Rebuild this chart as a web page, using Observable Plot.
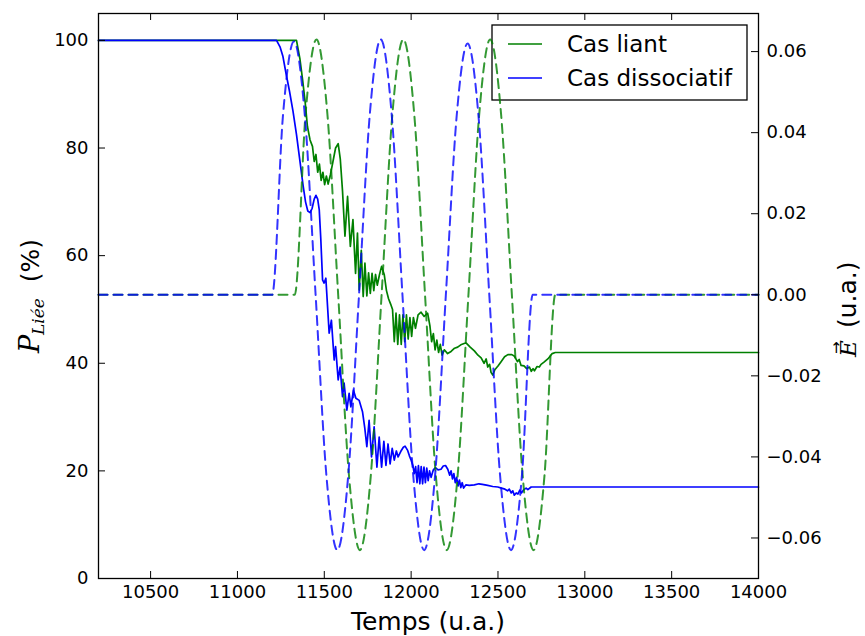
<!DOCTYPE html>
<html><head><meta charset="utf-8">
<script src="https://cdn.jsdelivr.net/npm/d3@7"></script>
<script src="https://cdn.jsdelivr.net/npm/@observablehq/plot@0.6"></script>
<style>html,body{margin:0;padding:0;background:#fff}svg{display:block}</style>
</head><body><div id="chart"></div>
<script>
// ---- data ----
const seriesNames = ["Cas liant", "Cas dissociatif"];
const seriesColors = ["#008000", "#0000ff"];

const timeLiant = [10200,11340,11360,11375,11390,11403,11418,11432,11442,11452,11462,11472,11482,11492,11502,11512,11522,11535,11550,11565,11580,11592,11605,11619,11634,11650,11665,11680,11691,11701,11713,11724,11734,11745,11755,11765,11775,11785,11795,11805,11818,11830,11845,11858,11870,11882,11893,11903,11913,11923,11933,11943,11953,11963,11973,11983,11993,12003,12013,12025,12040,12057,12075,12095,12108,12118,12128,12138,12148,12158,12168,12178,12191,12210,12230,12250,12268,12290,12316,12340,12364,12385,12403,12420,12432,12441,12452,12460,12470,12482,12500,12518,12538,12557,12580,12595,12612,12622,12633,12650,12665,12681,12692,12702,12710,12725,12738,12748,12765,12787,12800,12812,12830,14000];
const pLiant = [100,100,96.5,92.7,88.5,84,81.5,80.3,77.5,78.8,75.5,77,74,75.5,73.2,74.8,73.3,75,77.5,80,80.8,78,72,63.6,71,61.7,66.7,56.7,64.2,53.6,61,52.4,58.6,52.5,56.8,53,56.7,53.5,56.5,54.5,56.5,58,56.5,53.5,52,51,50,44,49.3,43.5,49,43.5,49,44,49,44.5,48.5,45,48.5,46.5,49,49.5,48.7,49.3,47,44,45.5,42.5,44.3,42,43.5,41.5,42.5,41.8,42.2,42.8,43,43.5,43.8,43,42.3,41.5,41,40,40.8,39.3,39.8,38.3,37.8,38.8,39.5,40.3,41.2,41.6,41.6,41.3,40.3,40.7,39.6,39.5,39,39.3,38.5,39,38.6,39.4,39.3,39.8,40.2,40.8,41.3,41.8,42,42];

const timeDiss = [10200,11225,11245,11262,11280,11300,11320,11340,11360,11378,11392,11405,11418,11430,11442,11452,11462,11471,11480,11490,11499,11509,11528,11541,11557,11565,11580,11591,11605,11614,11630,11643,11653,11668,11682,11701,11720,11733,11745,11758,11772,11787,11803,11816,11830,11843,11855,11867,11879,11891,11903,11915,11925,11940,11955,11965,11980,11990,12000,12010,12018,12026,12034,12042,12050,12058,12066,12074,12082,12090,12098,12106,12115,12128,12140,12155,12172,12185,12198,12211,12222,12230,12238,12246,12254,12262,12270,12278,12286,12294,12302,12315,12335,12364,12390,12410,12441,12470,12499,12520,12540,12555,12565,12576,12585,12594,12605,12615,12625,12635,12648,12662,12672,12691,12705,14000];
const pDiss = [100,100,98.8,97,93.8,90.5,86.8,82.5,77.5,73,70,68.3,68,68.8,70.5,71.2,70.5,68.5,63,55.5,54.9,55.8,45.6,48,40.6,43.1,36.9,39.3,33.8,36.3,31.3,34.4,31.9,35,33.5,33.1,31,28,24.5,29.4,22.6,28.2,20.7,26.3,20.7,25.5,21,25,21.3,24.2,22,23.7,22.6,23.6,24.4,24.6,23.8,22.8,22,21,19.5,20.8,17.8,21,17.6,20.8,17.6,20.7,17.8,20.5,18.2,20,18.8,20.2,20.6,20.2,20.3,20.9,21,20.3,19.2,20,18.5,19.5,17.8,18.8,17.2,18.3,16.9,17.8,16.8,17.4,17.3,17.4,17.6,17.5,17.3,17.1,17,16.8,16.6,16.3,16.6,15.9,16.3,15.5,15.9,15.7,16.4,15.9,16.5,16.8,16.5,17,17,17];

// electric field (right axis), dashed
const timeFieldLiant = [10200,11330,11392,11455,11518,11580,11642,11705,11768,11830,11892,11955,12018,12080,12142,12205,12268,12330,12392,12455,12518,12580,12642,12705,12768,12830,14000];
const fieldLiant = [0,0,0.0445,0.063,0.0445,0,-0.0445,-0.063,-0.0445,0,0.0445,0.063,0.0445,0,-0.0445,-0.063,-0.0445,0,0.0445,0.063,0.0445,0,-0.0445,-0.063,-0.0445,0,0];
const timeFieldDiss = [10200,11200,11262,11325,11388,11450,11512,11575,11638,11700,11762,11825,11888,11950,12012,12075,12138,12200,12262,12325,12388,12450,12512,12575,12638,12700,14000];
const fieldDiss = [0,0,0.0442,0.0625,0.0442,0,-0.0445,-0.063,-0.0445,0,0.0445,0.063,0.0445,0,-0.0445,-0.063,-0.0445,0,0.044,0.062,0.044,0,-0.0445,-0.063,-0.0445,0,0];

const xTicks = [10500,11000,11500,12000,12500,13000,13500,14000];
const pTicks = [0,20,40,60,80,100];
const eTicks = [-0.06,-0.04,-0.02,0.00,0.02,0.04,0.06];

// ---- layout ----
const W = 865, H = 636, mL = 98, mR = 107, mT = 13, mB = 58;
const plotW = W - mL - mR, plotH = H - mT - mB;
const xDomain = [10200, 14000];
const pDomain = [0, 105];
const eDomain = [-0.0700, 0.0694];
const eToP = d3.scaleLinear().domain(eDomain).range(pDomain);

const liant = timeLiant.map((t, i) => ({t, v: pLiant[i]}));
const diss = timeDiss.map((t, i) => ({t, v: pDiss[i]}));
const fLiant = timeFieldLiant.map((t, i) => ({t, v: eToP(fieldLiant[i])}));
const fDiss = timeFieldDiss.map((t, i) => ({t, v: eToP(fieldDiss[i])}));

const tickLen = 7;
const fmtE = d => d3.format(".2f")(Math.round(eToP.invert(d) * 100) / 100);

const chart = Plot.plot({
  width: W, height: H,
  marginLeft: mL, marginRight: mR, marginTop: mT, marginBottom: mB,
  style: {fontFamily: "DejaVu Sans", color: "black", background: "white", overflow: "visible"},
  x: {domain: xDomain},
  y: {domain: pDomain},
  marks: [
    Plot.line(liant, {x: "t", y: "v", stroke: seriesColors[0], strokeWidth: 1.7}),
    Plot.line(diss, {x: "t", y: "v", stroke: seriesColors[1], strokeWidth: 1.7}),
    Plot.line(fLiant, {x: "t", y: "v", stroke: seriesColors[0], strokeWidth: 2, strokeOpacity: 0.8, strokeDasharray: "9,6", curve: "monotone-x"}),
    Plot.line(fDiss, {x: "t", y: "v", stroke: seriesColors[1], strokeWidth: 2, strokeOpacity: 0.8, strokeDasharray: "9,6", curve: "monotone-x"}),
    Plot.frame({stroke: "black", strokeWidth: 1.3}),
    // inward ticks
    Plot.tickX(xTicks, {x: d => d, stroke: "black", insetTop: plotH - tickLen}),
    Plot.tickX(xTicks, {x: d => d, stroke: "black", insetBottom: plotH - tickLen}),
    Plot.tickY(pTicks, {y: d => d, stroke: "black", insetRight: plotW - tickLen}),
    Plot.tickY(eTicks, {y: d => eToP(d), stroke: "black", insetLeft: plotW - tickLen}),
    // tick labels
    Plot.axisX({ticks: xTicks, tickSize: 0, tickPadding: 7, tickFormat: d => String(d), label: null, fontSize: 18}),
    Plot.axisY({ticks: pTicks, anchor: "left", tickSize: 0, tickPadding: 10, tickFormat: d => String(d), label: null, fontSize: 18}),
    Plot.axisY({ticks: eTicks.map(e => eToP(e)), anchor: "right", tickSize: 0, tickPadding: 8, tickFormat: fmtE, label: null, fontSize: 18})
  ]
});
document.getElementById("chart").appendChild(chart);

const svg = d3.select(chart);
// legend (drawn below the dashed field lines, like the reference)
const lineGroups = svg.selectAll('g[aria-label="line"]').nodes();
const leg = svg.insert("g", () => lineGroups[2]).attr("class", "legend");
leg.append("rect").attr("x", 492).attr("y", 25).attr("width", 255).attr("height", 75)
  .attr("fill", "white").attr("stroke", "black").attr("stroke-width", 1.3);
seriesNames.forEach((name, i) => {
  const y = 44 + i * 34;
  leg.append("line").attr("x1", 508).attr("x2", 542).attr("y1", y).attr("y2", y)
    .attr("stroke", seriesColors[i]).attr("stroke-width", 1.7);
  leg.append("text").attr("x", 567).attr("y", y).attr("dy", "0.35em").attr("text-anchor", "start")
    .attr("font-family", "DejaVu Sans").attr("font-size", 23).attr("fill", "black").text(name);
});

// left axis label: P_Liée (%)
const yl = svg.append("text").attr("transform", `translate(39,296) rotate(-90)`)
  .attr("text-anchor", "middle").attr("fill", "black");
yl.append("tspan").attr("font-family", "DejaVu Serif").attr("font-style", "italic").attr("font-size", 27).text("P");
yl.append("tspan").attr("font-family", "DejaVu Serif").attr("font-style", "italic").attr("font-size", 17).attr("dy", 5).text("Liée");
yl.append("tspan").attr("font-family", "DejaVu Sans").attr("font-size", 25).attr("dy", -5).text("\u00a0\u00a0(%)");

// right axis label: E with vector arrow, (u.a.)
const yr = svg.append("g").attr("transform", `translate(856,300) rotate(-90)`).attr("fill", "black");
yr.append("text").attr("x", -57).attr("text-anchor", "start")
  .attr("font-family", "DejaVu Serif").attr("font-style", "italic").attr("font-size", 23).text("E");
yr.append("text").attr("x", -54).attr("y", -15).attr("text-anchor", "start")
  .attr("font-family", "DejaVu Sans").attr("font-size", 15).text("\u2192");
yr.append("text").attr("x", -28).attr("text-anchor", "start")
  .attr("font-family", "DejaVu Sans").attr("font-size", 25).text("(u.a.)");

// x axis label
svg.append("text").attr("x", mL + plotW / 2).attr("y", 630).attr("text-anchor", "middle")
  .attr("font-family", "DejaVu Sans").attr("font-size", 25).attr("fill", "black").text("Temps (u.a.)");
</script>
</body></html>
